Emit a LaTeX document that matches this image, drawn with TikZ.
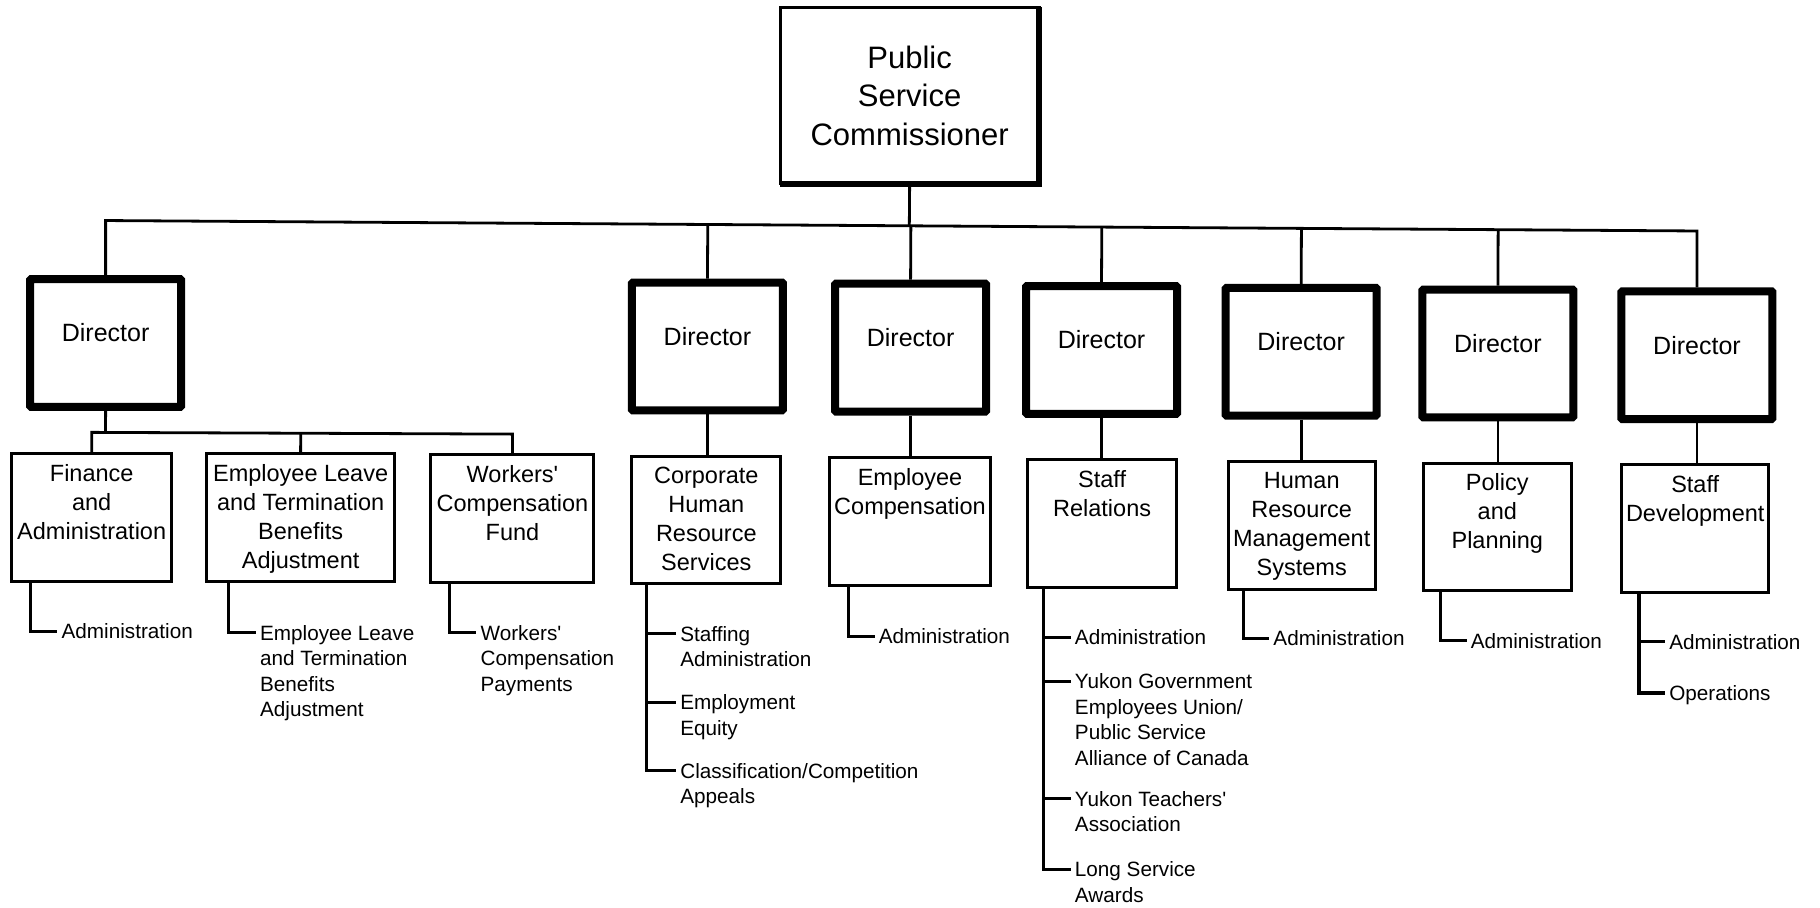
\documentclass[tikz,border=0pt]{standalone}
\usepackage{fontspec}
\setmainfont{Liberation Sans}
\usetikzlibrary{calc}

\newcommand\pscfont{\fontsize{31pt}{38.5pt}\selectfont}
\newcommand\dirfont{\fontsize{25pt}{30pt}\selectfont}
\newcommand\unitfont{\fontsize{23.5pt}{29pt}\selectfont}
\newcommand\leaffont{\fontsize{20.7pt}{25.5pt}\selectfont}

\begin{document}
\begin{tikzpicture}[x=1.1607pt, y=-1.1607pt,
  conn/.style={line width=2.8pt},
  leafline/.style={line width=3.1pt},
  pscbox/.style={draw, line width=2.8pt, outer sep=0pt, inner sep=0pt,
    minimum width=259pt, minimum height=176.5pt, align=center, font=\pscfont},
  dirbox/.style={draw, line width=8pt, inner sep=0pt, rounded corners=1pt,
    minimum width=151pt, minimum height=127.8pt},
  dirtext/.style={font=\dirfont, inner sep=0pt, yshift=10pt},
  unitbox/.style={draw, line width=3pt, inner sep=0pt, minimum height=127.8pt},
  unittext/.style={font=\unitfont, align=center, inner sep=0pt, anchor=north, yshift=-11.9pt},
  leaf/.style={font=\leaffont, align=left, anchor=north west,
    inner xsep=4pt, inner ysep=0pt, yshift=7.7pt},
]
\fill[white] (0,0) rectangle (1568,782.27);
\useasboundingbox (0,0) rectangle (1568,782.27);

% commissioner
\node[pscbox] (psc) at (783.7,82.3) {Public\\Service\\Commissioner};
\draw[line width=6.5pt] (psc.north east) -- (psc.south east) -- (psc.south west);

% directors
\node[dirbox] (d1) at (91,295.5) {};
\node[dirbox] (d2) at (609.5,298.5) {};
\node[dirbox] (d3) at (784.5,299.5) {};
\node[dirbox] (d4) at (949,301.5) {};
\node[dirbox] (d5) at (1121,303) {};
\node[dirbox] (d6) at (1290.5,304.5) {};
\node[dirbox] (d7) at (1462,306) {};
\foreach \d in {d1,d2,d3,d4,d5,d6,d7}
  \node[dirtext] (\d t) at (\d.center) {Director};

% branches
\node[unitbox, minimum width=159.5pt] (c1) at (79,446) {};
\node[unitbox, minimum width=187.4pt] (c2) at (259,446) {};
\node[unitbox, minimum width=163pt]   (c3) at (441.5,447) {};
\node[unitbox, minimum width=149.1pt] (c4) at (608.5,448) {};
\node[unitbox, minimum width=161.8pt] (c5) at (784,449.5) {};
\node[unitbox, minimum width=149.1pt] (c6) at (949.5,451) {};
\node[unitbox, minimum width=146.7pt] (c7) at (1121.5,452.5) {};
\node[unitbox, minimum width=147.9pt] (c8) at (1290,454) {};
\node[unitbox, minimum width=146.7pt] (c9) at (1460.5,455.5) {};

\node[unittext] (c1t) at (c1.north) {Finance\\and\\Administration};
\node[unittext] (c2t) at (c2.north) {Employee Leave\\and Termination\\Benefits\\Adjustment};
\node[unittext] (c3t) at (c3.north) {Workers\textquotesingle\\Compensation\\Fund};
\node[unittext] (c4t) at (c4.north) {Corporate\\Human\\Resource\\Services};
\node[unittext] (c5t) at (c5.north) {Employee\\Compensation};
\node[unittext] (c6t) at (c6.north) {Staff\\Relations};
\node[unittext] (c7t) at (c7.north) {Human\\Resource\\Management\\Systems};
\node[unittext] (c8t) at (c8.north) {Policy\\and\\Planning};
\node[unittext] (c9t) at (c9.north) {Staff\\Development};

% top bus
\coordinate (busL) at (91,190);
\coordinate (busR) at (1462,199);
\draw[conn] (d1.north) -- (busL) -- (busR) -- (d7.north);
\draw[conn] (psc.south) -- ($(busL)!(psc.south)!(busR)$);
\foreach \d in {d2,d3,d4,d5,d6}
  \draw[conn] (\d.north) -- ($(busL)!(\d.north)!(busR)$);

% first director's bus
\coordinate (sbL) at (79,372.5);
\coordinate (sbR) at (441.5,374);
\draw[conn] (c1.north) -- (sbL) -- (sbR) -- (c3.north);
\draw[conn] (d1.south) -- ($(sbL)!(d1.south)!(sbR)$);
\draw[conn] (c2.north) -- ($(sbL)!(c2.north)!(sbR)$);

% director to branch
\draw[conn] (d2.south) -- (d2.south |- c4.north);
\draw[conn] (d3.south) -- (d3.south |- c5.north);
\draw[conn] (d4.south) -- (d4.south |- c6.north);
\draw[conn] (d5.south) -- (d5.south |- c7.north);
\draw[conn] (d6.south) -- (d6.south |- c8.north);
\draw[conn] (d7.south) -- (d7.south |- c9.north);

% sub-units
\node[leaf] (l1) at (49.5,544) {Administration};
\node[leaf] (l2) at (220.5,545) {Employee Leave\\and Termination\\Benefits\\Adjustment};
\node[leaf] (l3) at (410.5,545) {Workers\textquotesingle\\Compensation\\Payments};
\node[leaf] (l4a) at (582.5,546) {Staffing\\Administration};
\node[leaf] (l4b) at (582.5,605) {Employment\\Equity};
\node[leaf] (l4c) at (582.5,664) {Classification/Competition\\Appeals};
\node[leaf] (l5) at (753.5,548) {Administration};
\node[leaf] (l6a) at (922.5,549) {Administration};
\node[leaf] (l6b) at (922.5,587) {Yukon Government\\Employees Union/\\Public Service\\Alliance of Canada};
\node[leaf] (l6c) at (922.5,688) {Yukon Teachers\textquotesingle\\Association};
\node[leaf] (l6d) at (922.5,749) {Long Service\\Awards};
\node[leaf] (l7) at (1093.5,550) {Administration};
\node[leaf] (l8) at (1263.5,552) {Administration};
\node[leaf] (l9a) at (1434.5,553) {Administration};
\node[leaf] (l9b) at (1434.5,597) {Operations};

\draw[leafline] ($(c1.south west)+(17,0)$) |- ([yshift=-7.7pt]l1.north west);
\draw[leafline] ($(c2.south west)+(20,0)$) |- ([yshift=-7.7pt]l2.north west);
\draw[leafline] ($(c3.south west)+(17,0)$) |- ([yshift=-7.7pt]l3.north west);
\foreach \l in {l4a,l4b,l4c}
  \draw[leafline] ($(c4.south west)+(14,0)$) |- ([yshift=-7.7pt]\l.north west);
\draw[leafline] ($(c5.south west)+(18,0)$) |- ([yshift=-7.7pt]l5.north west);
\foreach \l in {l6a,l6b,l6c,l6d}
  \draw[leafline] ($(c6.south west)+(15,0)$) |- ([yshift=-7.7pt]\l.north west);
\draw[leafline] ($(c7.south west)+(14,0)$) |- ([yshift=-7.7pt]l7.north west);
\draw[leafline] ($(c8.south west)+(16,0)$) |- ([yshift=-7.7pt]l8.north west);
\foreach \l in {l9a,l9b}
  \draw[leafline] ($(c9.south west)+(16,0)$) |- ([yshift=-7.7pt]\l.north west);
\end{tikzpicture}
\end{document}
